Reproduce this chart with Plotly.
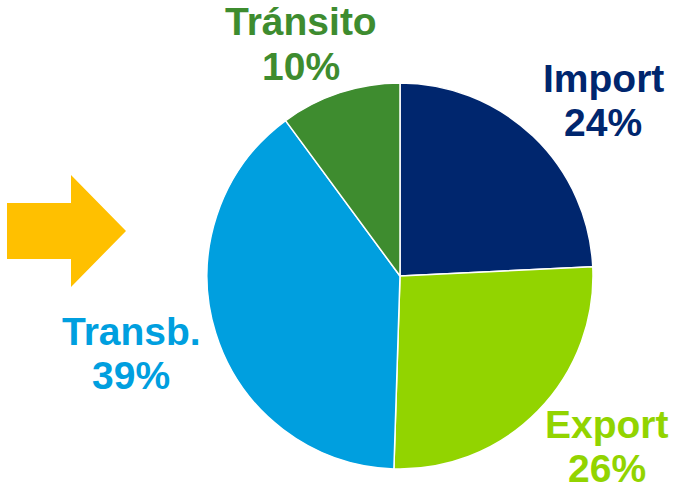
import plotly.graph_objects as go

labels = ["Import", "Export", "Transb.", "Tránsito"]
values = [24, 26, 39, 10]
colors = ["#00266E", "#92D400", "#009FDF", "#3E8C2F"]
# label anchor positions in pixels (center x, first-line center y from top)
label_pos = [(603, 78), (607, 424), (131, 331), (301, 22)]
line_gap = 44

W, H = 673, 490

fig = go.Figure(go.Pie(
    labels=labels, values=values, sort=False, direction="clockwise", rotation=0,
    marker=dict(colors=colors, line=dict(color="white", width=1.5)),
    textinfo="none", hoverinfo="label+percent", showlegend=False,
    domain=dict(x=[207 / W, 593 / W], y=[1 - 469 / H, 1 - 83 / H]),
))

for lab, val, col, (px, py) in zip(labels, values, colors, label_pos):
    for i, txt in enumerate([lab, f"{val}%"]):
        fig.add_annotation(
            x=px / W, y=1 - (py + i * line_gap) / H, xref="paper", yref="paper",
            text=f"<b>{txt}</b>", showarrow=False, borderpad=0,
            font=dict(family="Arial, Liberation Sans, sans-serif", size=39, color=col),
            xanchor="center", yanchor="middle", align="center",
        )

arrow = [(7, 203), (71, 203), (71, 175), (126, 231), (71, 287), (71, 259), (7, 259)]
path = "M " + " L ".join(f"{x / W:.4f},{1 - y / H:.4f}" for x, y in arrow) + " Z"
fig.add_shape(type="path", path=path, xref="paper", yref="paper",
              fillcolor="#FFC000", line=dict(width=0))

fig.update_layout(width=W, height=H, margin=dict(l=0, r=0, t=0, b=0),
                  paper_bgcolor="white", plot_bgcolor="white")

fig.write_html("out.html")
